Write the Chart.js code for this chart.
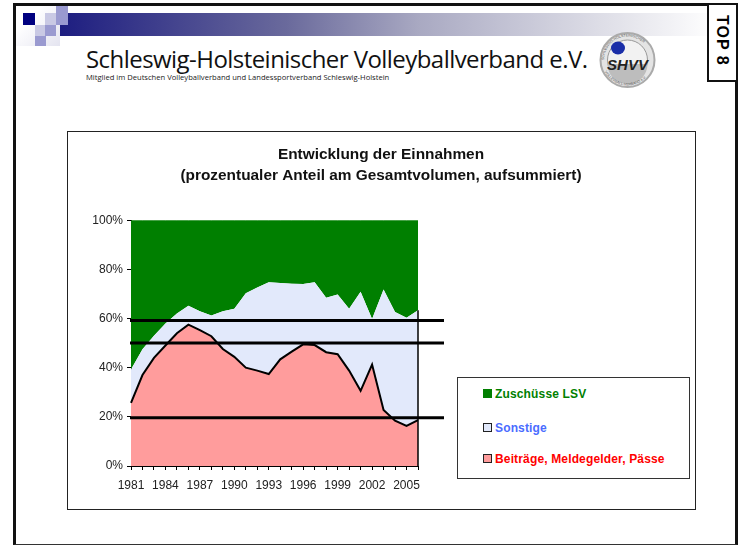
<!DOCTYPE html>
<html>
<head>
<meta charset="utf-8">
<script src="https://cdn.jsdelivr.net/npm/chart.js@4/dist/chart.umd.min.js"></script>
<style>
html, body { margin: 0; padding: 0; background: #fff; }
body { width: 739px; height: 545px; position: relative; overflow: hidden; font-family: "Liberation Sans", Arial, sans-serif; }
.abs { position: absolute; box-sizing: border-box; }
#frame { left: 13px; top: 3px; width: 725px; height: 542px; border: 3px solid #111; border-bottom: 1px solid #333; }
#band { left: 56px; top: 13px; width: 660px; height: 23px; background: linear-gradient(to right, #1c1c80 0%, #6a6a9c 35%, #a9a9c2 55%, #e8e8ee 88%, #ffffff 100%); }
.sq { position: absolute; }
#head { left: 86px; top: 42px; font-family: "Open Sans", "DejaVu Sans", sans-serif; font-size: 24px; color: #111; white-space: nowrap; letter-spacing: -0.55px; }
#sub { left: 86px; top: 72px; font-family: "Open Sans", "DejaVu Sans", sans-serif; font-size: 7.6px; color: #222; white-space: nowrap; }
#top8 { left: 707px; top: 3px; width: 31px; height: 79px; background: #fff; border: 2px solid #111; }
#top8 span { position: absolute; left: 2px; top: 10px; transform-origin: 0 0; transform: translate(20px, 0) rotate(90deg); font-weight: bold; font-size: 16px; white-space: nowrap; letter-spacing: 1px; }
#box { left: 67px; top: 131px; width: 629px; height: 379px; border: 1px solid #222; }
#wrap { left: 68px; top: 132px; width: 626px; height: 377px; }
#legendBox { left: 457px; top: 377px; width: 233px; height: 102px; border: 1px solid #333; background: #fff; font-weight: bold; font-size: 12px; letter-spacing: 0.15px; }
.li { position: absolute; left: 25px; white-space: nowrap; }
.li i { display: inline-block; width: 7px; height: 7px; margin-right: 3px; border: 1px solid #222; box-sizing: content-box; }
</style>
</head>
<body>
<div class="abs" id="frame"></div>
<div class="abs" id="band"></div>
<div class="sq" style="left:16px;top:6px;width:44px;height:40px;background:linear-gradient(135deg,#fff 30%,#e4e4f0 100%)"></div>
<div class="sq" style="left:23px;top:13px;width:12px;height:12px;background:#000080"></div>
<div class="sq" style="left:45px;top:13px;width:11px;height:12px;background:#c9c9e4"></div>
<div class="sq" style="left:56px;top:6px;width:12px;height:19px;background:#9a9ad0"></div>
<div class="sq" style="left:35px;top:25px;width:11px;height:11px;background:#c9c9e4"></div>
<div class="sq" style="left:45px;top:25px;width:11px;height:11px;background:#9a9ad0"></div>
<div class="sq" style="left:35px;top:36px;width:11px;height:10px;background:#9a9ad0"></div>
<div class="abs" id="head">Schleswig-Holsteinischer Volleyballverband e.V.</div>
<div class="abs" id="sub">Mitglied im Deutschen Volleyballverband und Landessportverband Schleswig-Holstein</div>
<svg class="abs" style="left:597px;top:30px" width="62" height="60" viewBox="0 0 62 60">
  <defs><path id="ring" d="M7 30 A23.5 23.5 0 0 1 54 30"/><path id="ring2" d="M5 30 A25.5 25.5 0 0 0 56 30"/></defs>
  <circle cx="30.5" cy="30" r="27" fill="#e4e4e4" stroke="#aaa" stroke-width="2"/>
  <circle cx="30.5" cy="30" r="20" fill="#f2f2f2" stroke="#999" stroke-width="1"/>
  <path d="M10.5 34 A20 20 0 0 0 50.5 34 Z" fill="#bdbdbd"/>
  <ellipse cx="21" cy="18" rx="7" ry="6.5" fill="#1a2ea8"/>
  <text x="30.5" y="40" text-anchor="middle" font-family="Liberation Sans" font-weight="bold" font-style="italic" font-size="15" fill="#222">SHVV</text>
  <text font-family="Liberation Sans" font-size="3.6" fill="#555"><textPath href="#ring">SCHLESWIG-HOLSTEINISCHER</textPath></text>
  <text font-family="Liberation Sans" font-size="3.6" fill="#555"><textPath href="#ring2" startOffset="12">VOLLEYBALL-VERBAND e.V.</textPath></text>
</svg>
<div class="abs" id="top8"><span>TOP 8</span></div>
<div class="abs" id="box"></div>
<div class="abs" id="wrap"><canvas id="chart" width="626" height="377"></canvas></div>
<div class="abs" id="legendBox"></div>
<script>
// years on the axis
var years = [1981,1982,1983,1984,1985,1986,1987,1988,1989,1990,1991,1992,1993,1994,1995,1996,1997,1998,1999,2000,2001,2002,2003,2004,2005,2006];

// percent shares, stacked from the bottom
var beitraege = [25.7,37,44,49,54,57.5,55.3,52.8,47.6,44.4,40,38.8,37.4,43.4,46.5,49.5,49.2,46.3,45.5,38.8,30.6,41.3,22.8,18.4,16.3,18.7];
var sonstige = [13.6,10.5,9,9,8,7.7,7.7,8.4,15.4,19.6,30.3,33.8,37.4,31.1,27.6,24.5,25.6,22.1,24.3,25.2,40.3,18.5,49,44.3,44,44.7];
var zuschuesse = [60.7,52.5,47,42,38,34.8,37,38.8,37,36,29.7,27.4,25.2,25.5,25.9,26,25.2,31.6,30.2,36,29.1,40.2,28.2,37.3,39.7,36.6];

// the three thick marker lines
var markerLines = [59.2, 50, 19.6];

var seriesNames = ['Beiträge, Meldegelder, Pässe', 'Sonstige', 'Zuschüsse LSV'];
var legendColors = ['#ff0000', '#4a6cff', '#008000'];

// the dither of the original reads as one flat tint at this size
var redFill = '#ff9c9c';
var blueFill = '#e2e9fb';

// thick lines run past the plot, and the area ends in a black edge
var overlay = {
    id: 'overlay',
    afterDatasetsDraw: function(chart) {
        var ctx = chart.ctx, x = chart.scales.x, y = chart.scales.y;
        var last = years.length - 1;
        ctx.save();
        ctx.strokeStyle = '#000';
        ctx.lineWidth = 1.5;
        ctx.beginPath();
        ctx.moveTo(x.getPixelForValue(last), y.getPixelForValue(beitraege[last] + sonstige[last]));
        ctx.lineTo(x.getPixelForValue(last), y.getPixelForValue(0));
        ctx.stroke();
        ctx.lineWidth = 3;
        markerLines.forEach(function(v) {
            ctx.beginPath();
            ctx.moveTo(x.left - 1, y.getPixelForValue(v));
            ctx.lineTo(x.right + 26, y.getPixelForValue(v));
            ctx.stroke();
        });
        ctx.restore();
    }
};

var config = {
    type: 'line',
    data: {
        labels: years,
        datasets: [
            { label: seriesNames[0], data: beitraege, backgroundColor: redFill, borderColor: '#000', borderWidth: 2, fill: 'origin' },
            { label: seriesNames[1], data: sonstige, backgroundColor: blueFill, borderColor: 'rgba(0,0,0,0)', borderWidth: 0, fill: '-1' },
            { label: seriesNames[2], data: zuschuesse, backgroundColor: '#007f00', borderColor: '#007f00', borderWidth: 1, fill: '-1' }
        ]
    },
    options: {
        responsive: false,
        animation: false,
        layout: { padding: { left: 0, right: 0, top: 0, bottom: 14 } },
        elements: { point: { pointStyle: false }, line: { tension: 0 } },
        plugins: {
            legend: { display: false },
            tooltip: { enabled: false },
            title: {
                display: true,
                text: ['Entwicklung der Einnahmen', '(prozentualer Anteil am Gesamtvolumen, aufsummiert)'],
                color: '#111',
                font: { family: 'Liberation Sans', size: 15.4, weight: 'bold', lineHeight: 1.37 },
                padding: { top: 12, bottom: 34 }
            }
        },
        scales: {
            x: {
                offset: false,
                stacked: true,
                grid: { display: true, drawOnChartArea: false, color: '#000', tickLength: 4 },
                border: { color: '#000', width: 1 },
                afterFit: function(scale) { scale.height = 29; },
                ticks: {
                    autoSkip: false,
                    maxRotation: 0,
                    color: '#222',
                    font: { family: 'Liberation Sans', size: 12 },
                    padding: 8,
                    callback: function(value, index) {
                        return index % 3 === 0 ? years[index] : '';
                    }
                }
            },
            y: {
                stacked: true,
                min: 0,
                max: 100,
                grid: { display: true, drawOnChartArea: false, color: '#000', tickLength: 4 },
                border: { color: '#000', width: 1 },
                afterFit: function(scale) { scale.width = 63; },
                ticks: {
                    stepSize: 20,
                    color: '#222',
                    font: { family: 'Liberation Sans', size: 12 },
                    padding: 4,
                    callback: function(value) { return value + '%'; }
                }
            },
            // empty axis, only keeps the room for the legend box on the right
            spacer: {
                position: 'right',
                ticks: { display: false },
                grid: { display: false },
                border: { display: false },
                afterFit: function(scale) { scale.width = 276; }
            }
        }
    },
    plugins: [overlay]
};

new Chart(document.getElementById('chart'), config);

// legend box, top row is the top series
var legendBox = document.getElementById('legendBox');
var swatches = [redFill, blueFill, '#007f00'];
var rows = [2, 1, 0];
var rowTops = [9, 43, 74];
rows.forEach(function(s, row) {
    var d = document.createElement('div');
    d.className = 'li';
    d.style.top = rowTops[row] + 'px';
    d.style.color = legendColors[s];
    var i = document.createElement('i');
    i.style.background = swatches[s];
    if (s === 2) i.style.borderColor = '#007f00';
    d.appendChild(i);
    d.appendChild(document.createTextNode(seriesNames[s]));
    legendBox.appendChild(d);
});
</script>
</body>
</html>
